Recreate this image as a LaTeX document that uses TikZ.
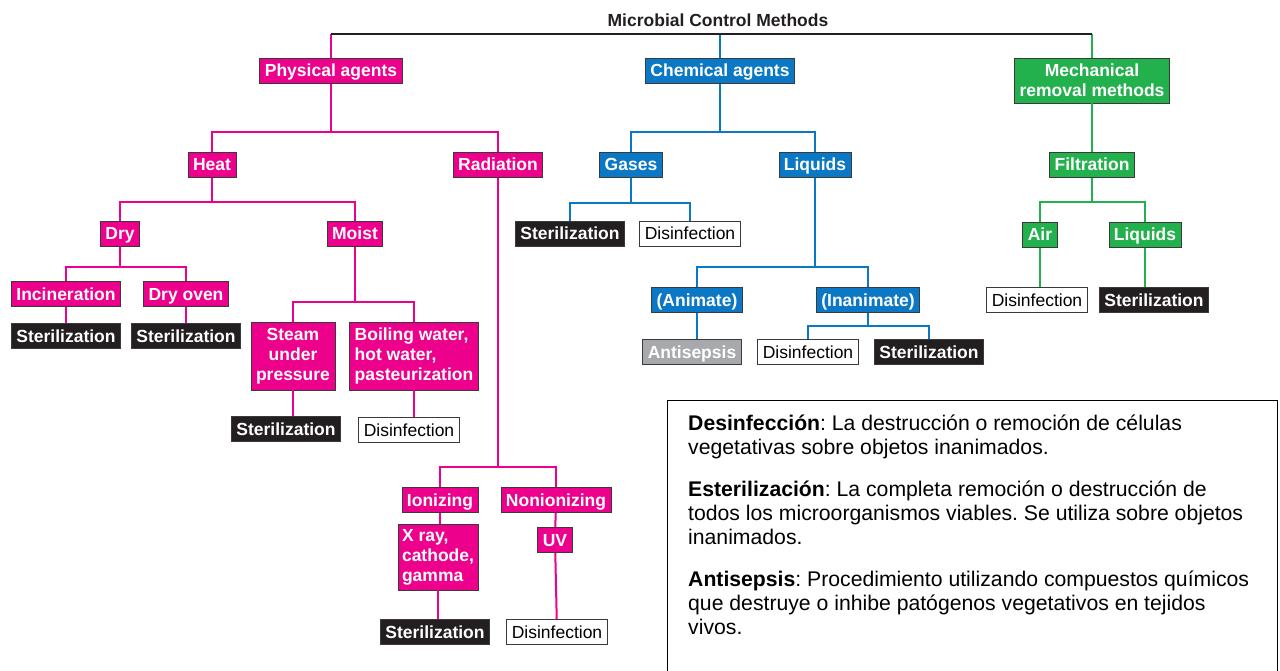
\documentclass[tikz,border=0pt]{standalone}
\usepackage{fontspec}
\setmainfont{Liberation Sans}
\usetikzlibrary{calc}
\definecolor{physColor}{HTML}{EC008C}
\definecolor{chemColor}{HTML}{0A78C4}
\definecolor{mechColor}{HTML}{22B14C}
\definecolor{sterColor}{HTML}{231F20}
\definecolor{antiColor}{HTML}{A7A9AC}
\definecolor{edgeColor}{HTML}{3A3A3A}
\tikzset{
	tag/.style={draw=edgeColor, line width=0.8pt, inner xsep=5pt, inner ysep=2pt,
		font=\fontsize{17.5}{20}\selectfont\bfseries, text=white},
	one/.style={tag, text height=13pt, text depth=1pt, minimum height=25pt},
	pk/.style={one, fill=physColor},
	ch/.style={one, fill=chemColor},
	mc/.style={one, fill=mechColor},
	ster/.style={one, fill=sterColor},
	dis/.style={one, fill=white, text=black, font=\fontsize{17.5}{20}\selectfont},
	anti/.style={one, fill=antiColor},
	pline/.style={draw=physColor, line width=2pt},
	cline/.style={draw=chemColor, line width=2pt},
	mline/.style={draw=mechColor, line width=2pt},
	kline/.style={draw=sterColor, line width=2pt}
}
\begin{document}
\frenchspacing
\begin{tikzpicture}[x=1pt, y=-1pt]
				\useasboundingbox (0,0) rectangle (1280,671);
				
				\node[font=\fontsize{17.5}{20}\selectfont\bfseries, text=sterColor] (title) at (718,20) {Microbial Control Methods};
				
				% first level
				\node[pk] (phys) at (331,71) {Physical agents};
				\node[ch] (chem) at (720,71) {Chemical agents};
				\node[tag, fill=mechColor, align=center, minimum height=45pt] (mech) at (1092,80.5) {Mechanical\\removal methods};
				
				% physical agents
				\node[pk] (heat) at (212,165) {Heat};
				\node[pk] (rad) at (498,165) {Radiation};
				\node[pk] (dry) at (120,234) {Dry};
				\node[pk] (moist) at (355,234) {Moist};
				\node[pk] (incin) at (66,294) {Incineration};
				\node[pk] (oven) at (186,294) {Dry oven};
				\node[ster] (incinS) at (66,336) {Sterilization};
				\node[ster] (ovenS) at (186,336) {Sterilization};
				\node[tag, fill=physColor, align=center, minimum height=68pt] (steam) at (293,356) {Steam\\under\\pressure};
				\node[tag, fill=physColor, align=left, minimum height=68pt] (boil) at (414,356) {Boiling water,\\hot water,\\pasteurization};
				\node[ster] (steamS) at (286,429) {Sterilization};
				\node[dis] (boilD) at (409,430) {Disinfection};
				\node[pk] (ion) at (440,500) {Ionizing};
				\node[pk] (nonion) at (556,500) {Nonionizing};
				\node[tag, fill=physColor, align=left, minimum height=66pt, inner xsep=4pt] (xray) at (438,557) {X ray,\\cathode,\\gamma};
				\node[pk] (uv) at (555,540) {UV};
				\node[ster] (xrayS) at (435,632) {Sterilization};
				\node[dis] (uvD) at (557,632) {Disinfection};
				
				% chemical agents
				\node[ch] (gases) at (631,165) {Gases};
				\node[ch] (liq) at (815,165) {Liquids};
				\node[ster] (gasS) at (570,234) {Sterilization};
				\node[dis] (gasD) at (690,234) {Disinfection};
				\node[ch] (anim) at (697,300) {(Animate)};
				\node[ch] (inan) at (868,300) {(Inanimate)};
				\node[anti] (antis) at (692,352) {Antisepsis};
				\node[dis] (inanD) at (808,352) {Disinfection};
				\node[ster] (inanS) at (929,352) {Sterilization};
				
				% mechanical removal
				\node[mc] (filt) at (1092,165) {Filtration};
				\node[mc] (air) at (1040,235) {Air};
				\node[mc] (fliq) at (1145,235) {Liquids};
				\node[dis] (airD) at (1037,300) {Disinfection};
				\node[ster] (fliqS) at (1154,300) {Sterilization};
				
				% connectors
				\draw[pline] (phys.north) -- ++(0,-24) coordinate (bar);
				\draw[cline] (chem.north) -- (chem.north |- bar);
				\draw[mline] (mech.north) -- (mech.north |- bar);
				\draw[kline] (bar) -- (mech.north |- bar);
				
				\draw[pline] (phys.south) -- ++(0,48.5) -| (heat.north) (phys.south) ++(0,48.5) -| (rad.north);
				\draw[pline] (heat.south) -- ++(0,24.5) -| (dry.north) (heat.south) ++(0,24.5) -| (moist.north);
				\draw[pline] (dry.south) -- ++(0,20.5) -| (incin.north) (dry.south) ++(0,20.5) -| (oven.north);
				\draw[pline] (incin) -- (incinS);
				\draw[pline] (oven) -- (ovenS);
				\draw[pline] (moist.south) -- ++(0,55.5) -| (steam.north) (moist.south) ++(0,55.5) -| (boil.north);
				\draw[pline] (steam.south) -- (steam.south |- steamS.north);
				\draw[pline] (boil.south) -- (boil.south |- boilD.north);
				\draw[pline] (rad.south) -- ++(0,289.5) -| (ion.north) (rad.south) ++(0,289.5) -| (nonion.north);
				\draw[pline] (ion.south) -- (ion.south |- xray.north);
				\draw[pline] (xray.south) -- (xray.south |- xrayS.north);
				\draw[pline] (nonion) -- (uv);
				\draw[pline] (uv) -- (uvD);
				
				\draw[cline] (chem.south) -- ++(0,48.5) -| (gases.north) (chem.south) ++(0,48.5) -| (liq.north);
				\draw[cline] (gases.south) -- ++(0,25) -| (gasS.north) (gases.south) ++(0,25) -| (gasD.north);
				\draw[cline] (liq.south) -- ++(0,89.5) -| (anim.north) (liq.south) ++(0,89.5) -| (inan.north);
				\draw[cline] (anim.south) -- (anim.south |- antis.north);
				\draw[cline] (inan.south) -- ++(0,13.5) -| (inanD.north) (inan.south) ++(0,13.5) -| (inanS.north);
				
				\draw[mline] (mech) -- (filt);
				\draw[mline] (filt.south) -- ++(0,24.5) -| (air.north) (filt.south) ++(0,24.5) -| (fliq.north);
				\draw[mline] (air.south) -- (air.south |- airD.north);
				\draw[mline] (fliq.south) -- (fliq.south |- fliqS.north);
				
				% definitions
				\node[draw, line width=1.2pt, minimum width=610pt, minimum height=290pt, anchor=north west] (defs) at (667,400) {};
				\node[anchor=north west, inner sep=0pt, align=left, font=\fontsize{21.2}{24}\selectfont] (defText) at (688,415) {\textbf{Desinfección}: La destrucción o remoción de células\\
					vegetativas sobre objetos inanimados.\\[18pt]
					\textbf{Esterilización}: La completa remoción o destrucción de\\
					todos los microorganismos viables. Se utiliza sobre objetos\\
					inanimados.\\[18pt]
					\textbf{Antisepsis}: Procedimiento utilizando compuestos químicos\\
					que destruye o inhibe patógenos vegetativos en tejidos\\
					vivos.};
			\end{tikzpicture}
\end{document}
